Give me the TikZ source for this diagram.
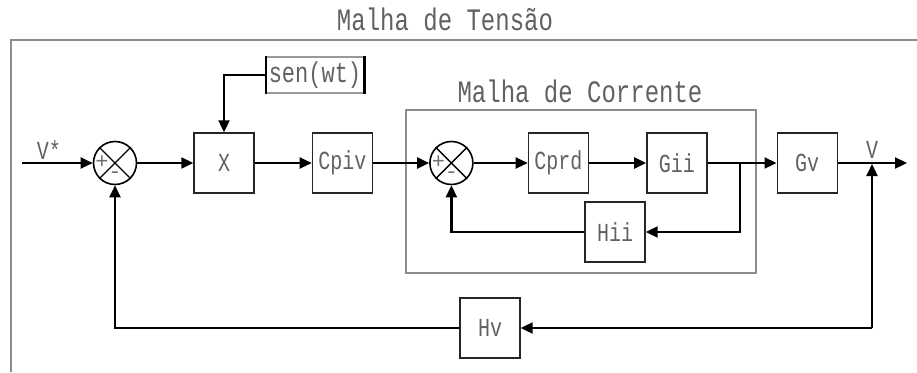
\documentclass[tikz,border=0pt]{standalone}
\usepackage{fontspec}
\usepackage{graphicx}
\setmainfont{Liberation Mono}
\usetikzlibrary{positioning, arrows.meta, calc}
\newcommand{\tallText}[1]{\scalebox{1}[1.3]{#1}}
\tikzset{
  blockbox/.style={
    rectangle,
    draw=black!85,
    line width=1.4pt,
    minimum width=60pt,
    minimum height=60pt,
    inner sep=2pt,
    text=black!62,
    font=\fontsize{20}{22}\selectfont
  },
  sumnode/.style={
    circle,
    draw=black,
    line width=1.6pt,
    minimum size=43pt,
    inner sep=0pt
  },
  sigarrow/.style={
    -{Triangle[length=12pt,width=11pt]},
    line width=2.2pt
  },
  framebox/.style={
    draw=black!45,
    line width=2pt
  },
  looplabel/.style={
    text=black!62,
    font=\fontsize{24}{26}\selectfont
  },
  signlabel/.style={
    text=black!55,
    inner sep=0pt,
    font=\fontsize{22}{22}\selectfont
  }
}

\begin{document}
\begin{tikzpicture}[x=1pt, y=-1pt]
  \useasboundingbox (0,0) rectangle (917,372);
  % frames
  \draw[framebox] (917,40) -- (11,40) -- (11,372);
  \draw[framebox] (406,110) rectangle (756,273);
  \node[looplabel] (tlabel) at (445,19) {\tallText{Malha de Tensão}};
  \node[looplabel] (clabel) at (580,91) {\tallText{Malha de Corrente}};
  % blocks
  \node[sumnode] (sumv) at (115,163) {};
  \node[blockbox, right=56pt of sumv] (mult) {\tallText{X}};
  \node[blockbox, right=57pt of mult] (cpiv) {\tallText{Cpiv}};
  \node[sumnode, right=56pt of cpiv] (sumi) {};
  \node[blockbox, right=54pt of sumi] (cprd) {\tallText{Cprd}};
  \node[blockbox, right=57pt of cprd] (gii) {\tallText{Gii}};
  \node[blockbox, right=69pt of gii] (gv) {\tallText{Gv}};
  \node[blockbox] (hii) at (615,232) {\tallText{Hii}};
  \node[blockbox] (hv) at (490,328) {\tallText{Hv}};
  \node[rectangle, draw=black!40, line width=1.4pt, minimum width=97pt, minimum height=36pt,
    inner sep=1pt, text=black!62, font=\fontsize{22}{24}\selectfont] (sen) at (315,75) {\tallText{sen(wt)}};
  \draw[line width=2.6pt] (sen.north west) -- (sen.south west) (sen.north east) -- (sen.south east);
  \foreach \s in {sumv, sumi} {
    \draw[line width=1.4pt] (\s.north west) -- (\s.south east) (\s.north east) -- (\s.south west);
    \node[signlabel] at ($(\s.center)+(-13,-1)$) {+};
    \node[signlabel] at ($(\s.center)+(0,12)$) {-};
  }
  % signals
  \coordinate (vin) at (22,163);
  \coordinate (bi) at (740,163);
  \coordinate (bv) at (872,163);
  \coordinate (vout) at (907,163);
  \coordinate (hvc) at (872,328);
  \draw[sigarrow] (vin) -- node[looplabel, pos=0.38, above=-1pt, font=\fontsize{20}{22}\selectfont] (vstar) {\tallText{V*}} (sumv.west);
  \draw[sigarrow] (sumv.east) -- (mult.west);
  \draw[sigarrow] (sen.west) -| (mult.north);
  \draw[sigarrow] (mult.east) -- (cpiv.west);
  \draw[sigarrow] (cpiv.east) -- (sumi.west);
  \draw[sigarrow] (sumi.east) -- (cprd.west);
  \draw[sigarrow] (cprd.east) -- (gii.west);
  \draw[sigarrow] (gii.east) -- (gv.west);
  \draw[sigarrow] (bi) |- (hii.east);
  \draw[sigarrow] (hii.west) -| (sumi.south);
  \draw[sigarrow] (gv.east) -- (vout);
  \node[looplabel, font=\fontsize{20}{22}\selectfont] (vlabel) at (872,150) {\tallText{V}};
  \draw[sigarrow] (hvc) -- ($(bv)+(0,1)$);
  \draw[sigarrow] (hvc) -- (hv.east);
  \draw[sigarrow] (hv.west) -| (sumv.south);
\end{tikzpicture}
\end{document}
